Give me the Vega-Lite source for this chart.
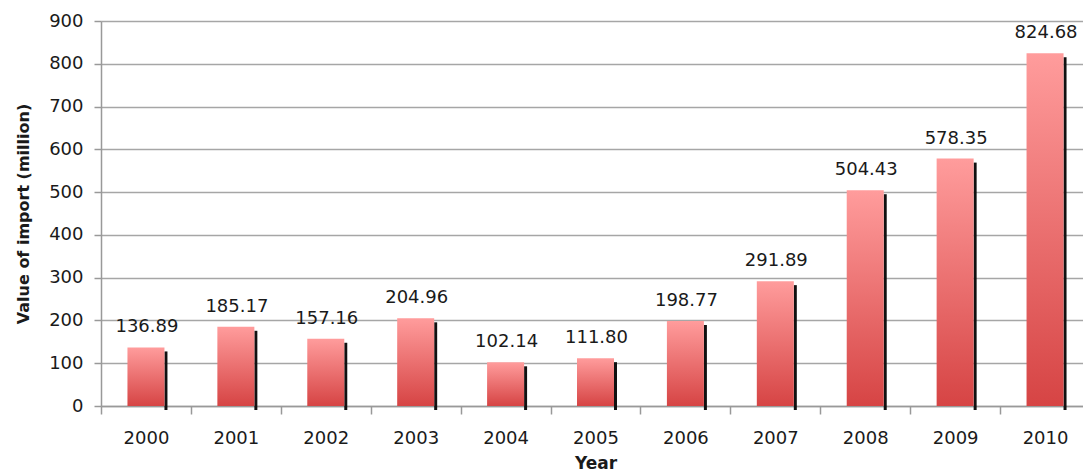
{
  "$schema": "https://vega.github.io/schema/vega-lite/v6.json",
  "width": 982,
  "height": 385,
  "autosize": {"type": "none"},
  "padding": {"left": 101, "top": 21, "right": 0, "bottom": 67},
  "background": "white",
  "config": {
    "view": {"stroke": null},
    "font": "DejaVu Sans"
  },
  "data": {
    "values": [
      {"year": "2000", "value": 136.89, "label": "136.89"},
      {"year": "2001", "value": 185.17, "label": "185.17"},
      {"year": "2002", "value": 157.16, "label": "157.16"},
      {"year": "2003", "value": 204.96, "label": "204.96"},
      {"year": "2004", "value": 102.14, "label": "102.14"},
      {"year": "2005", "value": 111.80, "label": "111.80"},
      {"year": "2006", "value": 198.77, "label": "198.77"},
      {"year": "2007", "value": 291.89, "label": "291.89"},
      {"year": "2008", "value": 504.43, "label": "504.43"},
      {"year": "2009", "value": 578.35, "label": "578.35"},
      {"year": "2010", "value": 824.68, "label": "824.68"}
    ]
  },
  "encoding": {
    "x": {
      "field": "year",
      "type": "ordinal",
      "scale": {"range": [0, 989], "paddingInner": 0, "paddingOuter": 0},
      "axis": {
        "title": "Year",
        "titleFont": "DejaVu Sans",
        "titleFontSize": 17,
        "titleFontWeight": "bold",
        "titleColor": "#1a1a1a",
        "titlePadding": 8,
        "labelAngle": 0,
        "labelFontSize": 18,
        "labelColor": "#1a1a1a",
        "labelPadding": 15,
        "tickBand": "extent",
        "tickSize": 8,
        "tickColor": "#999",
        "tickWidth": 1.5,
        "domainColor": "#999",
        "domainWidth": 1.5,
        "grid": false
      }
    },
    "y": {
      "field": "value",
      "type": "quantitative",
      "scale": {"domain": [0, 900], "nice": false},
      "axis": {
        "title": "Value of import (million)",
        "titleFontSize": 16,
        "titleFontWeight": "bold",
        "titleColor": "#1a1a1a",
        "titlePadding": 17,
        "values": [0, 100, 200, 300, 400, 500, 600, 700, 800, 900],
        "labelFontSize": 18,
        "labelColor": "#1a1a1a",
        "labelPadding": 11,
        "tickSize": 7,
        "tickColor": "#999",
        "tickWidth": 1.5,
        "domainColor": "#999",
        "domainWidth": 1.5,
        "grid": true,
        "gridColor": "#a6a6a6",
        "gridWidth": 1.5
      }
    }
  },
  "layer": [
    {
      "mark": {
        "type": "bar",
        "width": 3,
        "xOffset": 20,
        "yOffset": 4,
        "y2Offset": 0,
        "color": "#111"
      }
    },
    {
      "mark": {
        "type": "bar",
        "width": 37,
        "xOffset": 0,
        "fill": {
          "gradient": "linear",
          "x1": 0, "y1": 0, "x2": 0, "y2": 1,
          "stops": [
            {"offset": 0, "color": "#ff9c9c"},
            {"offset": 1, "color": "#d64444"}
          ]
        }
      }
    },
    {
      "mark": {
        "type": "text",
        "dy": -15,
        "baseline": "alphabetic",
        "fontSize": 18,
        "color": "#1a1a1a",
        "xOffset": 1
      },
      "encoding": {
        "text": {"field": "label"}
      }
    }
  ]
}
